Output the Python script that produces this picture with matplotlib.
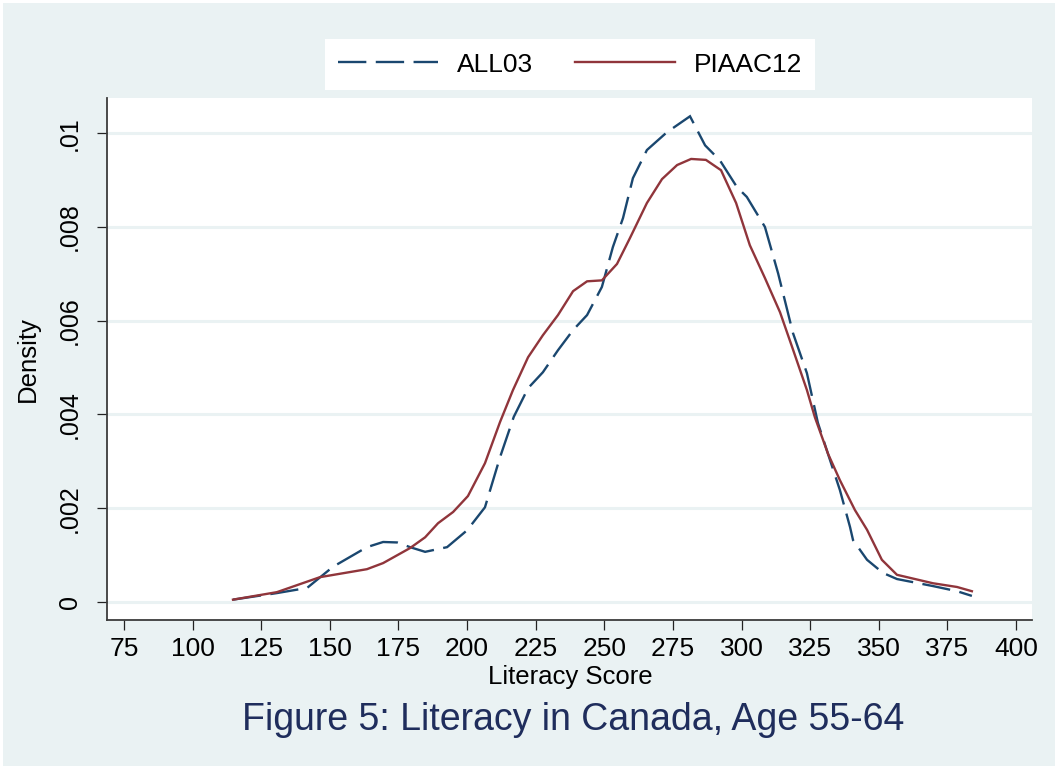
import matplotlib
matplotlib.use("Agg")
import matplotlib.pyplot as plt
from matplotlib.patches import Rectangle

plt.rcParams['font.family'] = ['Liberation Sans', 'DejaVu Sans']

# ALL03 density curve (score, density)
all03_x = [114.7, 130.7, 141.7, 151.1, 163.5, 169.4, 174.5, 179.2, 184.7, 192.7,
           200.0, 206.5, 212.0, 217.0, 222.2, 227.6, 233.1, 238.6, 243.7, 249.1,
           253.1, 256.8, 260.4, 265.5, 272.8, 281.2, 286.7, 292.1, 298.3, 301.9,
           308.5, 313.3, 318.7, 323.8, 327.8, 332.2, 335.8, 339.5, 340.6, 345.7,
           351.5, 356.6, 369.7, 378.5, 383.9]
all03_y = [0.00005, 0.00019, 0.00030, 0.00075, 0.00117, 0.00128, 0.00127, 0.00117, 0.00107, 0.00117,
           0.00153, 0.00202, 0.00309, 0.00395, 0.00456, 0.00490, 0.00537, 0.00580, 0.00612, 0.00672,
           0.00757, 0.00819, 0.00904, 0.00964, 0.01002, 0.01036, 0.00974, 0.00942, 0.00885, 0.00864,
           0.00800, 0.00701, 0.00574, 0.00488, 0.00382, 0.00303, 0.00239, 0.00160, 0.00132, 0.00090,
           0.00062, 0.00049, 0.00034, 0.00023, 0.00013]

# PIAAC12 density curve (score, density)
piaac_x = [114.7, 130.7, 146.4, 163.5, 169.4, 179.2, 184.7, 189.4, 194.9, 200.3,
           206.5, 212.0, 216.7, 222.2, 227.6, 233.1, 238.6, 243.7, 249.1, 254.6,
           259.3, 265.5, 271.0, 276.5, 281.6, 287.0, 292.5, 298.0, 303.0, 308.5,
           314.0, 318.4, 323.8, 326.7, 331.5, 335.8, 341.3, 345.7, 351.1, 356.6,
           369.7, 378.5, 383.9]
piaac_y = [0.00005, 0.00021, 0.00053, 0.00070, 0.00083, 0.00115, 0.00138, 0.00168, 0.00192, 0.00226,
           0.00296, 0.00384, 0.00452, 0.00522, 0.00569, 0.00612, 0.00663, 0.00684, 0.00686, 0.00721,
           0.00776, 0.00851, 0.00902, 0.00932, 0.00945, 0.00943, 0.00921, 0.00851, 0.00761, 0.00691,
           0.00618, 0.00544, 0.00452, 0.00394, 0.00316, 0.00260, 0.00196, 0.00154, 0.00090, 0.00058,
           0.00040, 0.00032, 0.00023]

x_ticks = [75, 100, 125, 150, 175, 200, 225, 250, 275, 300, 325, 350, 375, 400]
y_ticks = [0, 0.002, 0.004, 0.006, 0.008, 0.01]
y_tick_labels = ['0', '.002', '.004', '.006', '.008', '.01']

BG = '#EAF2F3'
NAVY = '#1A476F'
MAROON = '#90353B'
W, H = 1058, 769

fig = plt.figure(figsize=(W / 100, H / 100), dpi=100, facecolor='white')
fig.patches.append(Rectangle((3 / W, 3 / H), 1 - 6 / W, 1 - 6 / H,
                             transform=fig.transFigure, facecolor=BG,
                             edgecolor='none', zorder=-10))

ax = fig.add_axes([107 / W, 1 - 620 / H, (1032 - 107) / W, (620 - 98) / H])
ax.set_facecolor('white')

ax.plot(all03_x, all03_y, color=NAVY, lw=1.7, dashes=(12, 4), label='ALL03',
        solid_joinstyle='miter', dash_joinstyle='miter', zorder=3)
ax.plot(piaac_x, piaac_y, color=MAROON, lw=1.7, label='PIAAC12', zorder=3)

ax.set_xlim(68.8, 405.8)
ax.set_ylim(-0.000384, 0.01075)
ax.set_xticks(x_ticks)
ax.set_xticklabels([str(v) for v in x_ticks])
ax.set_yticks(y_ticks)
ax.set_yticklabels(y_tick_labels, rotation=90, va='center')

ax.grid(axis='y', color=BG, lw=2.2, zorder=0)
ax.set_axisbelow(True)
for s in ['top', 'right']:
    ax.spines[s].set_visible(False)
for s in ['left', 'bottom']:
    ax.spines[s].set_color('#3c3c3c')
    ax.spines[s].set_linewidth(1.3)

ax.tick_params(axis='x', direction='out', length=7, width=0.9, color='#222222',
               labelsize=19, pad=5, labelcolor='black')
ax.tick_params(axis='y', direction='out', length=7, width=0.9, color='#222222',
               labelsize=18, pad=11, labelcolor='black')

fig.text(28 / W, 1 - 359 / H, 'Density', rotation=90, ha='center', va='center',
         fontsize=18.5, color='black')
fig.text(570 / W, 1 - 677 / H, 'Literacy Score', ha='center', va='center',
         fontsize=18.5, color='black')
fig.text(573 / W, 1 - 720 / H, 'Figure 5: Literacy in Canada, Age 55-64',
         ha='center', va='center', fontsize=27, color='#1F2D5C')

leg = fig.legend(loc='center', bbox_to_anchor=(570 / W, 1 - 64.5 / H), ncol=2,
                 fontsize=19, frameon=True, fancybox=False, handlelength=3.8,
                 handletextpad=0.7, columnspacing=1.6, borderpad=0.5,
                 borderaxespad=0)
leg.get_frame().set_facecolor('white')
leg.get_frame().set_edgecolor('none')
leg.get_frame().set_alpha(1)

fig.savefig('out.png', dpi=100, facecolor=fig.get_facecolor())
